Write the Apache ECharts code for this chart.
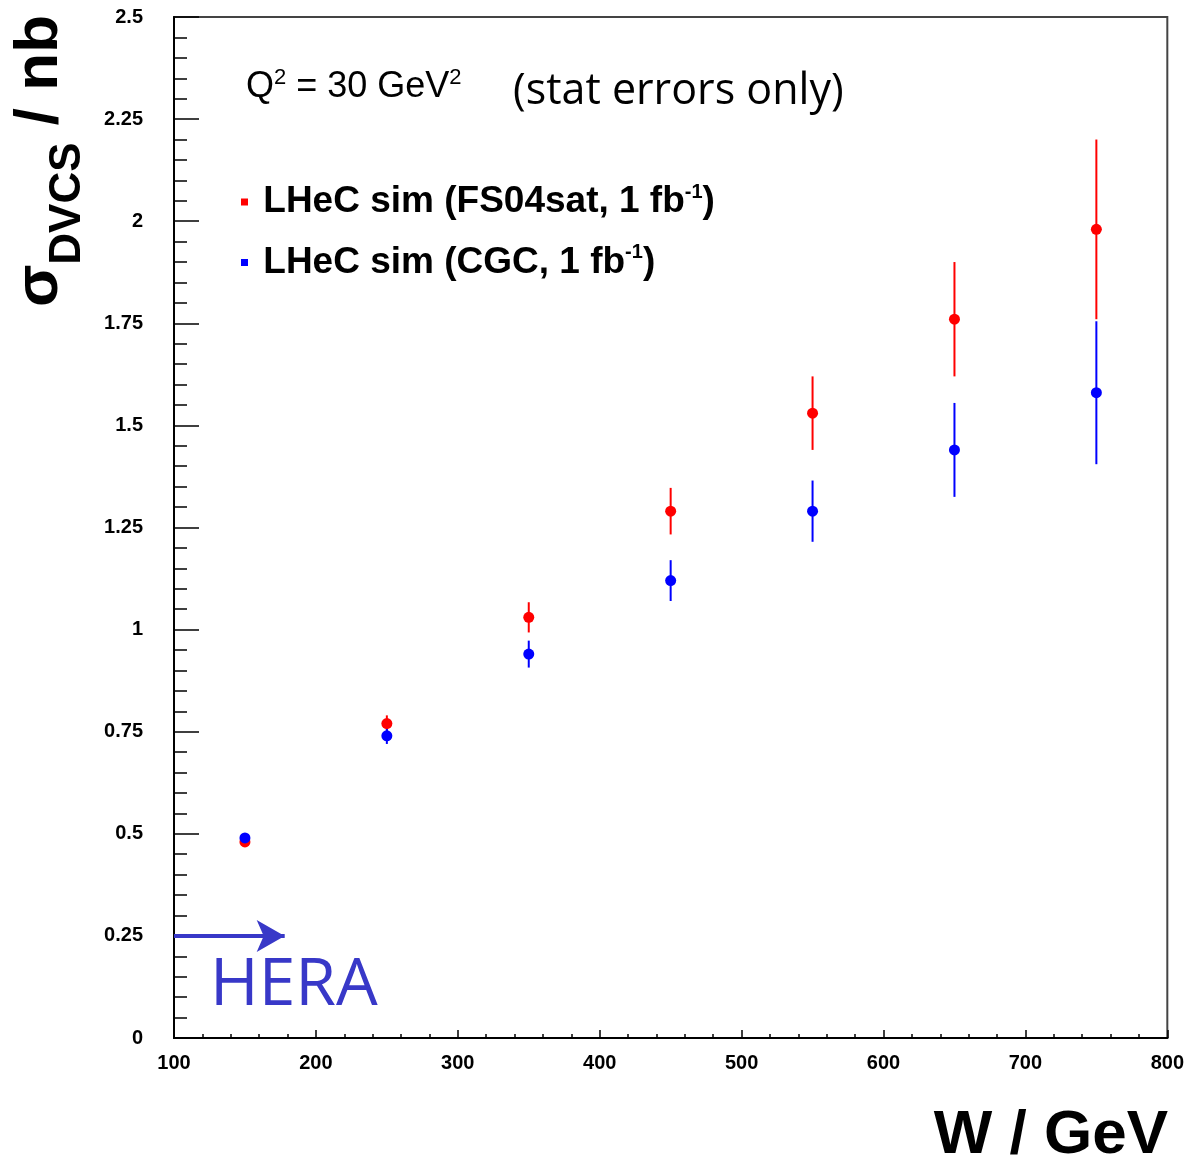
<!DOCTYPE html>
<html>
<head>
<meta charset="utf-8">
<script src="https://cdn.jsdelivr.net/npm/echarts@6/dist/echarts.min.js"></script>
<style>
html,body{margin:0;padding:0;background:#fff;}
#c{width:1187px;height:1162px;}
</style>
</head>
<body>
<div id="c"></div>
<script>
// ---- data ----
const W = [150, 250, 350, 450, 550, 650, 750];
const fs04sat = [0.48, 0.77, 1.03, 1.29, 1.53, 1.76, 1.98];
const fs04satErr = [0.008, 0.02, 0.037, 0.057, 0.09, 0.14, 0.22];
const cgc = [0.49, 0.74, 0.94, 1.12, 1.29, 1.44, 1.58];
const cgcErr = [0.008, 0.02, 0.033, 0.05, 0.075, 0.115, 0.175];
const heraArrow = [[100, 0.25], [178, 0.25]];
const xTicks = {min: 100, max: 800, interval: 100};
const yTicks = {min: 0, max: 2.5, interval: 0.25};

const RED = '#ff0000', BLUE = '#0000ff', HERA_BLUE = '#3838c8';
const nameRed = 'LHeC sim (FS04sat, 1 fb-1)';
const nameBlue = 'LHeC sim (CGC, 1 fb-1)';

function pts(xs, ys) { return xs.map((x, i) => [x, ys[i]]); }
function errs(xs, ys, es) { return xs.map((x, i) => [x, ys[i] - es[i], ys[i] + es[i]]); }
function errRender(color) {
  return function (params, api) {
    const a = api.coord([api.value(0), api.value(1)]);
    const b = api.coord([api.value(0), api.value(2)]);
    return {type: 'line', shape: {x1: a[0], y1: a[1], x2: b[0], y2: b[1]},
            style: {stroke: color, lineWidth: 2}};
  };
}

const chart = echarts.init(document.getElementById('c'));
const font = 'Liberation Sans, Arial, Helvetica, sans-serif';
chart.setOption({
  backgroundColor: '#fff',
  animation: false,
  grid: {left: 174, right: 19, top: 17, bottom: 124, show: true, borderColor: '#444', borderWidth: 2, containLabel: false},
  xAxis: {
    type: 'value', min: xTicks.min, max: xTicks.max, interval: xTicks.interval,
    axisLine: {lineStyle: {color: '#000', width: 2}},
    axisTick: {inside: true, length: 8, lineStyle: {color: '#000', width: 1.5}},
    minorTick: {show: true, splitNumber: 5, length: 4, lineStyle: {color: '#000', width: 1.5}},
    splitLine: {show: false},
    axisLabel: {margin: 15, fontFamily: font, fontWeight: 'bold', fontSize: 20, color: '#000', showMinLabel: true, showMaxLabel: true}
  },
  yAxis: {
    type: 'value', min: yTicks.min, max: yTicks.max, interval: yTicks.interval,
    axisLine: {lineStyle: {color: '#000', width: 2}},
    axisTick: {inside: true, length: 25, lineStyle: {color: '#000', width: 1.5}},
    minorTick: {show: true, splitNumber: 5, length: 13, lineStyle: {color: '#000', width: 1.5}},
    splitLine: {show: false},
    axisLabel: {margin: 31, fontFamily: font, fontWeight: 'bold', fontSize: 20, color: '#000', showMinLabel: true, showMaxLabel: true}
  },
  legend: {
    orient: 'vertical', left: 241, top: 182, padding: 0, itemGap: 22,
    itemWidth: 7, itemHeight: 7, icon: 'rect',
    data: [{name: nameRed, itemStyle: {color: RED}}, {name: nameBlue, itemStyle: {color: BLUE}}],
    formatter: function (n) {
      const base = n.replace(' fb-1)', ' fb');
      return '{a| ' + base + '}{b|-1}{a|)}';
    },
    textStyle: {
      color: '#000',
      rich: {
        a: {fontFamily: font, fontWeight: 'bold', fontSize: 37, lineHeight: 40, color: '#000'},
        b: {fontFamily: font, fontWeight: 'bold', fontSize: 20, lineHeight: 22, verticalAlign: 'top', color: '#000'}
      }
    }
  },
  series: [
    {type: 'custom', name: 'errRed', renderItem: errRender(RED), data: errs(W, fs04sat, fs04satErr), encode: {x: 0, y: [1, 2]}, silent: true},
    {type: 'scatter', name: nameRed, data: pts(W, fs04sat), symbol: 'circle', symbolSize: 11, itemStyle: {color: RED, opacity: 1}},
    {type: 'custom', name: 'errBlue', renderItem: errRender(BLUE), data: errs(W, cgc, cgcErr), encode: {x: 0, y: [1, 2]}, silent: true},
    {type: 'scatter', name: nameBlue, data: pts(W, cgc), symbol: 'circle', symbolSize: 11, itemStyle: {color: BLUE, opacity: 1},
     markLine: {
       silent: true, symbol: ['none', 'arrow'], symbolSize: [24, 28],
       lineStyle: {color: HERA_BLUE, width: 4, type: 'solid'},
       label: {show: false},
       data: [[{coord: heraArrow[0]}, {coord: heraArrow[1]}]]
     }}
  ],
  graphic: [
    {type: 'text', x: 40, y: 15, rotation: Math.PI / 2,
     style: {text: '{m|σ}{s|DVCS}{m| / nb}', align: 'right', verticalAlign: 'middle',
       rich: {
         m: {fontFamily: font, fontWeight: 'bold', fontSize: 62, lineHeight: 100, fill: '#000'},
         s: {fontFamily: font, fontWeight: 'bold', fontSize: 44, lineHeight: 44, verticalAlign: 'bottom', fill: '#000'}
       }}},
    {type: 'text', x: 1168, y: 1136,
     style: {text: 'W / GeV', align: 'right', verticalAlign: 'middle', font: 'bold 62px ' + font, fill: '#000'}},
    {type: 'text', x: 246, y: 87,
     style: {text: '{m|Q}{p|2}{m| = 30 GeV}{p|2}', align: 'left', verticalAlign: 'middle',
       rich: {
         m: {fontFamily: font, fontSize: 36, lineHeight: 40, fill: '#000'},
         p: {fontFamily: font, fontSize: 22, lineHeight: 24, verticalAlign: 'top', fill: '#000'}
       }}},
    {type: 'text', x: 513, y: 92,
     style: {text: '(stat errors only)', align: 'left', verticalAlign: 'middle', font: '43px "Open Sans", sans-serif', fill: '#000'}},
    {type: 'text', x: 210, y: 986,
     style: {text: 'HERA', align: 'left', verticalAlign: 'middle', font: '66px "Open Sans", sans-serif', fill: HERA_BLUE}}
  ]
});
</script>
</body>
</html>
